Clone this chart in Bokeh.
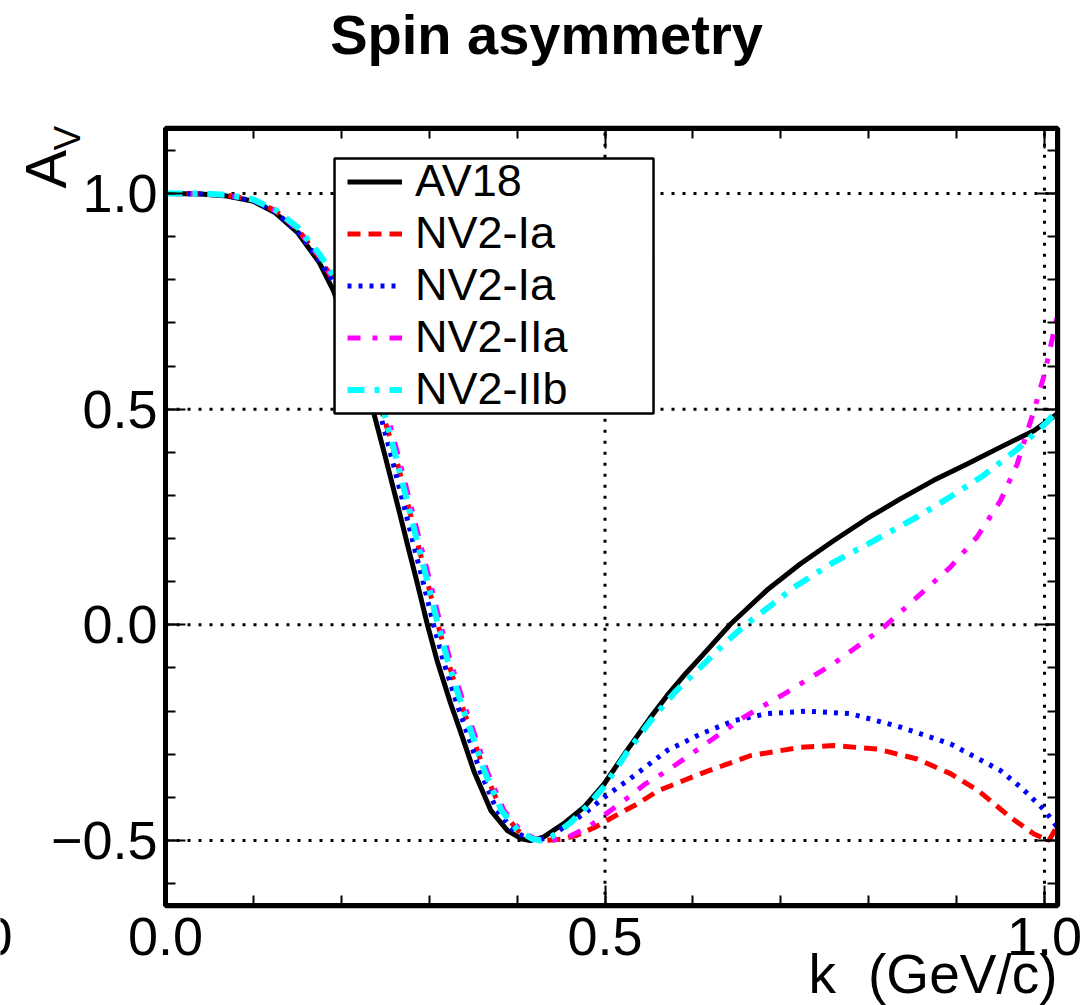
import math
from bokeh.plotting import figure
from bokeh.models import (Range1d, LinearAxis, SingleIntervalTicker, Legend, LegendItem,
                          Label, BoxAnnotation)
from bokeh.embed import file_html
from bokeh.resources import INLINE

# ---------------- data ----------------
series_names = ["AV18", "NV2-Ia", "NV2-Ia", "NV2-IIa", "NV2-IIb"]

k_av18 = [0.0, 0.04, 0.07, 0.1, 0.125, 0.15, 0.175, 0.191, 0.21, 0.225, 0.237, 0.25, 0.265,
          0.277, 0.286, 0.298, 0.309, 0.324, 0.336, 0.351, 0.370, 0.389, 0.405, 0.415, 0.430,
          0.453, 0.476, 0.499, 0.525, 0.552, 0.571, 0.59, 0.609, 0.643, 0.684, 0.722, 0.760,
          0.798, 0.836, 0.874, 0.912, 0.950, 0.988, 1.015]
a_av18 = [1.0, 0.999, 0.994, 0.982, 0.955, 0.91, 0.84, 0.775, 0.66, 0.565, 0.49, 0.39, 0.27,
          0.172, 0.10, 0.0, -0.083, -0.18, -0.25, -0.34, -0.43, -0.477, -0.496, -0.50, -0.492,
          -0.461, -0.423, -0.369, -0.291, -0.214, -0.163, -0.117, -0.075, 0.002, 0.08, 0.141,
          0.195, 0.246, 0.292, 0.335, 0.373, 0.412, 0.45, 0.49]

k_nv2_ia = [0.0, 0.04, 0.07, 0.1, 0.125, 0.15, 0.175, 0.195, 0.215, 0.235, 0.25, 0.262, 0.277,
            0.289, 0.298, 0.31, 0.321, 0.336, 0.348, 0.363, 0.382, 0.401, 0.417, 0.432, 0.45,
            0.468, 0.49, 0.514, 0.537, 0.56, 0.609, 0.666, 0.722, 0.76, 0.81, 0.855, 0.893,
            0.925, 0.961, 0.988, 1.005, 1.015]
a_nv2_ia = [1.0, 1.0, 0.996, 0.985, 0.96, 0.918, 0.852, 0.785, 0.68, 0.565, 0.47, 0.39, 0.27,
            0.172, 0.10, 0.0, -0.083, -0.18, -0.25, -0.34, -0.43, -0.477, -0.495, -0.50, -0.497,
            -0.488, -0.468, -0.44, -0.415, -0.385, -0.345, -0.303, -0.284, -0.280, -0.288, -0.311,
            -0.345, -0.385, -0.446, -0.485, -0.50, -0.465]

k_nv2_ia2 = [0.0, 0.04, 0.07, 0.1, 0.125, 0.15, 0.175, 0.197, 0.217, 0.232, 0.244, 0.257, 0.272,
             0.284, 0.293, 0.305, 0.316, 0.331, 0.343, 0.358, 0.377, 0.396, 0.412, 0.422, 0.44,
             0.453, 0.475, 0.499, 0.533, 0.571, 0.609, 0.647, 0.684, 0.73, 0.779, 0.836, 0.893,
             0.95, 0.975, 1.0, 1.015]
a_nv2_ia2 = [1.0, 0.999, 0.995, 0.983, 0.957, 0.913, 0.845, 0.775, 0.66, 0.565, 0.49, 0.39, 0.27,
             0.172, 0.10, 0.0, -0.083, -0.18, -0.25, -0.34, -0.43, -0.477, -0.496, -0.50, -0.49,
             -0.469, -0.44, -0.40, -0.35, -0.291, -0.253, -0.222, -0.206, -0.200, -0.206, -0.237,
             -0.276, -0.338, -0.38, -0.43, -0.47]

k_nv2_iia = [0.0, 0.04, 0.07, 0.1, 0.125, 0.15, 0.175, 0.2, 0.225, 0.24, 0.252, 0.265, 0.28,
             0.292, 0.301, 0.313, 0.324, 0.339, 0.351, 0.366, 0.385, 0.404, 0.42, 0.44, 0.46,
             0.48, 0.5, 0.52, 0.545, 0.571, 0.609, 0.658, 0.704, 0.76, 0.817, 0.855, 0.893,
             0.923, 0.95, 0.969, 0.988, 1.0, 1.015]
a_nv2_iia = [1.0, 1.0, 0.996, 0.985, 0.96, 0.918, 0.855, 0.77, 0.66, 0.565, 0.49, 0.39, 0.27,
             0.172, 0.10, 0.0, -0.083, -0.18, -0.25, -0.34, -0.43, -0.477, -0.496, -0.50, -0.49,
             -0.47, -0.44, -0.41, -0.37, -0.338, -0.284, -0.214, -0.16, -0.09, -0.006, 0.064,
             0.134, 0.203, 0.288, 0.373, 0.497, 0.582, 0.72]

k_nv2_iib = [0.0, 0.04, 0.07, 0.1, 0.125, 0.15, 0.175, 0.2, 0.222, 0.237, 0.249, 0.262, 0.277,
             0.289, 0.298, 0.31, 0.321, 0.336, 0.348, 0.363, 0.382, 0.401, 0.417, 0.427, 0.44,
             0.46, 0.48, 0.5, 0.525, 0.552, 0.58, 0.609, 0.635, 0.661, 0.69, 0.715, 0.76, 0.806,
             0.855, 0.893, 0.931, 0.969, 1.003, 1.015]
a_nv2_iib = [1.0, 1.0, 0.997, 0.986, 0.962, 0.922, 0.86, 0.78, 0.66, 0.565, 0.49, 0.39, 0.27,
             0.172, 0.10, 0.0, -0.083, -0.18, -0.25, -0.34, -0.43, -0.477, -0.496, -0.50, -0.49,
             -0.46, -0.42, -0.373, -0.296, -0.222, -0.155, -0.098, -0.045, 0.002, 0.047, 0.087,
             0.145, 0.195, 0.25, 0.297, 0.347, 0.407, 0.47, 0.50]

# axis ranges and grid positions
x_lo, x_hi = 0.0, 1.015
y_lo, y_hi = -0.651, 1.151
x_grid = [0.5, 1.0]
y_grid = [-0.5, 0.0, 0.5, 1.0]
y_label_overrides = {-0.5: "\u22120.5", 0: "0.0", 0.5: "0.5", 1: "1.0"}
x_label_overrides = {0: "0.0", 0.5: "0.5", 1: "1.0"}

FONT = "Liberation Sans"
W, H = 1091, 1005

# The frame fills the whole canvas; the axes are pinned (fixed_location) to the
# box [x_lo, x_hi] x [y_lo, y_hi], so texts outside that box are not clipped.
px_per_x = 879.0
px_per_y = 431.33
x0_px, y0_px = 165.0, 624.33
p = figure(width=W, height=H, output_backend="svg", toolbar_location=None,
           x_range=Range1d(-x0_px / px_per_x, (W - x0_px) / px_per_x),
           y_range=Range1d((y0_px - H) / px_per_y, y0_px / px_per_y),
           min_border=0, min_border_left=0, min_border_right=0, min_border_top=0,
           min_border_bottom=0, background_fill_color="white", border_fill_color="white")
p.outline_line_color = None
p.grid.visible = False

xt = SingleIntervalTicker(interval=0.5, num_minor_ticks=5)
yt = SingleIntervalTicker(interval=0.5, num_minor_ticks=5)
xb = p.xaxis[0]
yl = p.yaxis[0]
xb.ticker = xt
yl.ticker = yt
xb.fixed_location = y_lo
xb.bounds = (x_lo, x_hi)
yl.fixed_location = x_lo
yl.bounds = (y_lo, y_hi)
xtop = LinearAxis(ticker=xt, fixed_location=y_hi, bounds=(x_lo, x_hi))
yrt = LinearAxis(ticker=yt, fixed_location=x_hi, bounds=(y_lo, y_hi))
p.add_layout(xtop, "above")
p.add_layout(yrt, "right")

for ax in (xb, yl, xtop, yrt):
    ax.axis_line_width = 5
    ax.axis_line_color = "black"
    ax.major_tick_in = 20
    ax.major_tick_out = 0
    ax.minor_tick_in = 10
    ax.minor_tick_out = 0
    ax.major_tick_line_width = 2
    ax.minor_tick_line_width = 2
    ax.major_tick_line_color = "black"
    ax.minor_tick_line_color = "black"
    ax.major_label_text_font = FONT
    ax.major_label_text_font_size = "54px"
    ax.major_label_text_color = "black"

xb.major_label_overrides = x_label_overrides
xb.major_label_standoff = 12
yl.major_label_overrides = y_label_overrides
yl.major_label_standoff = 8
for ax in (xtop, yrt):
    ax.major_label_text_color = None

# dotted grid lines inside the axis box
p.segment(x0=x_grid, y0=[y_lo] * len(x_grid), x1=x_grid, y1=[y_hi] * len(x_grid),
          line_color="black", line_width=3, line_dash="3 8", level="underlay")
p.segment(x0=[x_lo] * len(y_grid), y0=y_grid, x1=[x_hi] * len(y_grid), y1=y_grid,
          line_color="black", line_width=3, line_dash="3 8", level="underlay")

# ---------------- curves ----------------
r1 = p.line(k_av18, a_av18, line_color="black", line_width=5)
r2 = p.line(k_nv2_ia, a_nv2_ia, line_color="red", line_width=5, line_dash="13 8")
r3 = p.line(k_nv2_ia2, a_nv2_ia2, line_color="blue", line_width=5, line_dash="4 7")
r4 = p.line(k_nv2_iia, a_nv2_iia, line_color="magenta", line_width=5, line_dash="13 12 5 12")
r5 = p.line(k_nv2_iib, a_nv2_iib, line_color="cyan", line_width=6, line_dash="17 10 5 10")

# frame box
p.add_layout(BoxAnnotation(left=x_lo, right=x_hi, bottom=y_lo, top=y_hi, fill_alpha=0,
                           line_color="black", line_alpha=1.0, line_width=5))

# ---------------- legend ----------------
p.add_layout(BoxAnnotation(left=0.1923, right=0.5552, top=1.0811, bottom=0.4899,
                           fill_color="white", fill_alpha=1.0, line_color="black",
                           line_alpha=1.0, line_width=2.5))
items = [LegendItem(label=n, renderers=[r]) for n, r in zip(series_names, [r1, r2, r3, r4, r5])]
legend = Legend(items=items, location=(347, 590), padding=0, spacing=0, margin=0,
                glyph_width=55, glyph_height=51, label_height=51, label_standoff=13,
                label_text_font=FONT, label_text_font_size="45px", label_text_color="black",
                background_fill_alpha=0, border_line_color=None)
p.add_layout(legend, "center")

# ---------------- texts (screen units: x from left, y up from bottom) ----------------
def add_text(x, y, text, size, **kw):
    p.add_layout(Label(x=x, y=y, x_units="screen", y_units="screen", text=text,
                       text_font=FONT, text_font_size=size, text_color="black",
                       text_baseline="alphabetic", **kw))

add_text(546, H - 34, "Spin asymmetry", "56px", text_font_style="bold", text_align="center")
add_text(45, H - 188, "A", "58px", angle=math.pi / 2, text_align="left")
add_text(67, H - 150, "V", "37px", angle=math.pi / 2, text_align="left")
add_text(808, H - 973, "k", "55px", text_align="left")
add_text(1057, H - 973, "(GeV/c)", "55px", text_align="right")
add_text(12, H - 936, "1.0", "54px", text_align="right")

open("out.html", "w").write(file_html(p, INLINE))
